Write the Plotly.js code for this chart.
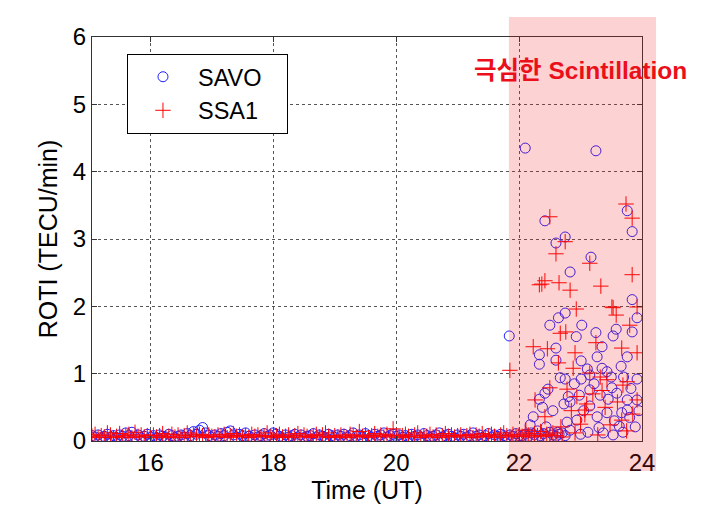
<!DOCTYPE html>
<html>
<head>
<meta charset="utf-8">
<script src="https://cdn.plot.ly/plotly-3.0.1.min.js"></script>
<style>html,body{margin:0;padding:0;background:#fff;}#chart{width:710px;height:508px;}</style>
</head>
<body>
<div id="chart"></div>
<script>
// Quiet-period time stamps (UT hours)
const tBase = [
15.05,15.1,15.15,15.2,15.25,15.3,15.35,15.4,15.45,15.5,15.55,15.6,15.65,15.7,15.75,15.8,15.85,15.9,15.95,16,
16.05,16.1,16.15,16.2,16.25,16.3,16.35,16.4,16.45,16.5,16.55,16.6,16.65,16.7,16.75,16.8,16.85,16.9,16.95,17,
17.05,17.1,17.15,17.2,17.25,17.3,17.35,17.4,17.45,17.5,17.55,17.6,17.65,17.7,17.75,17.8,17.85,17.9,17.95,18,
18.05,18.1,18.15,18.2,18.25,18.3,18.35,18.4,18.45,18.5,18.55,18.6,18.65,18.7,18.75,18.8,18.85,18.9,18.95,19,
19.05,19.1,19.15,19.2,19.25,19.3,19.35,19.4,19.45,19.5,19.55,19.6,19.65,19.7,19.75,19.8,19.85,19.9,19.95,20,
20.05,20.1,20.15,20.2,20.25,20.3,20.35,20.4,20.45,20.5,20.55,20.6,20.65,20.7,20.75,20.8,20.85,20.9,20.95,21,
21.05,21.1,21.15,21.2,21.25,21.3,21.35,21.4,21.45,21.5,21.55,21.6,21.65,21.7,21.75,21.8,21.85,21.9,21.95,22
];
const savoBase = [
0.08,0.06,0.09,0.05,0.07,0.10,0.06,0.08,0.05,0.09,0.07,0.12,0.08,0.13,0.06,0.09,0.05,0.07,0.10,0.06,
0.08,0.05,0.09,0.07,0.06,0.10,0.08,0.05,0.07,0.09,0.06,0.11,0.08,0.14,0.10,0.16,0.20,0.12,0.08,0.06,
0.09,0.07,0.11,0.08,0.13,0.15,0.09,0.06,0.10,0.08,0.12,0.07,0.05,0.09,0.06,0.08,0.11,0.07,0.09,0.12,
0.10,0.07,0.05,0.09,0.06,0.08,0.10,0.06,0.09,0.05,0.07,0.08,0.11,0.06,0.09,0.07,0.05,0.10,0.08,0.06,
0.09,0.07,0.10,0.06,0.08,0.12,0.07,0.09,0.05,0.11,0.08,0.06,0.10,0.07,0.09,0.12,0.06,0.08,0.10,0.07,
0.09,0.06,0.08,0.05,0.10,0.07,0.09,0.06,0.11,0.08,0.05,0.07,0.09,0.12,0.06,0.08,0.10,0.07,0.05,0.09,
0.07,0.10,0.06,0.08,0.12,0.07,0.09,0.05,0.08,0.11,0.06,0.09,0.07,0.10,0.08,0.06,0.09,0.07,0.11,0.08
];
const ssaBase = [
0.07,0.10,0.05,0.08,0.06,0.12,0.09,0.05,0.07,0.11,0.06,0.08,0.10,0.05,0.13,0.07,0.09,0.06,0.08,0.05,
0.09,0.06,0.08,0.11,0.05,0.07,0.10,0.06,0.09,0.05,0.08,0.12,0.06,0.09,0.07,0.10,0.08,0.05,0.09,0.07,
0.06,0.09,0.07,0.10,0.05,0.08,0.11,0.07,0.09,0.06,0.08,0.05,0.10,0.07,0.09,0.06,0.08,0.12,0.07,0.05,
0.08,0.10,0.06,0.07,0.09,0.05,0.08,0.11,0.06,0.09,0.07,0.05,0.08,0.10,0.06,0.09,0.12,0.07,0.05,0.08,
0.06,0.09,0.07,0.05,0.10,0.08,0.06,0.14,0.07,0.09,0.05,0.08,0.11,0.07,0.09,0.06,0.10,0.08,0.18,0.07,
0.05,0.08,0.10,0.07,0.06,0.09,0.12,0.05,0.08,0.07,0.10,0.06,0.09,0.05,0.08,0.11,0.07,0.09,0.06,0.08,
0.09,0.06,0.08,0.10,0.05,0.09,0.07,0.11,0.06,0.08,0.10,0.07,0.05,0.09,0.12,0.08,0.06,0.10,0.07,0.09
];
// Scintillation period (SAVO)
const tSavoActive = [22.05,22.10,22.15,22.20,22.25,22.30,22.35,22.40,22.45,22.50,22.55,22.60,22.65,22.70,22.75,
21.84,22.10,23.25,22.42,22.60,22.75,23.17,22.83,23.76,23.84,23.84,
22.75,22.64,22.50,23.02,22.93,23.25,23.35,23.53,23.58,23.84,23.92,
22.60,22.33,22.33,22.60,23.01,23.27,23.76,23.66,23.11,23.35,23.43,
22.67,22.75,23.01,23.15,23.50,23.92,
22.47,22.42,22.33,22.80,22.98,23.15,23.32,23.51,23.59,23.76,23.92,
22.73,22.83,23.15,23.43,23.67,23.76,
22.23,22.44,22.78,22.94,23.27,23.63,22.18,
22.63,22.83,23.12,23.37,23.53,23.69,23.89,
23.05,23.22,23.45,23.70,23.82,23.55,23.00,23.30,23.80,23.95,22.90,22.55,22.38];
const ySavoActive = [0.08,0.10,0.07,0.12,0.09,0.15,0.08,0.11,0.06,0.13,0.09,0.07,0.10,0.12,0.08,
1.56,4.35,4.31,3.27,2.94,3.03,2.73,2.51,3.42,3.11,2.10,
1.90,1.83,1.72,1.72,1.55,1.61,1.40,1.56,1.66,1.62,1.83,
1.38,1.28,1.14,1.20,1.19,1.25,1.25,1.11,1.07,1.08,1.03,
0.94,0.92,0.92,0.98,0.95,0.92,
0.77,0.71,0.62,0.66,0.68,0.76,0.68,0.79,0.71,0.61,0.61,
0.55,0.58,0.52,0.42,0.42,0.46,
0.36,0.21,0.28,0.31,0.36,0.22,0.24,
0.13,0.16,0.13,0.12,0.09,0.13,0.21,
0.45,0.85,0.62,0.95,0.78,0.30,0.10,0.20,0.35,0.45,0.85,0.45,0.50];
// Scintillation period (SSA1)
const tSsaActive = [22.05,22.10,22.15,22.20,22.25,22.30,22.35,22.40,22.45,22.50,22.55,22.60,22.70,
21.85,22.11,
22.50,22.75,22.60,23.15,22.42,22.33,22.65,22.83,23.33,23.74,23.84,23.84,23.51,23.92,22.37,
22.93,23.53,23.58,22.67,22.76,23.80,
22.23,22.46,22.91,23.25,23.67,23.92,
22.64,22.88,23.15,23.32,23.43,23.69,23.76,
22.50,22.78,22.26,22.94,23.07,23.07,23.48,23.67,22.42,22.68,22.91,23.28,23.92,
23.10,23.20,23.40,23.60,23.85,23.00,23.75,22.85,23.35];
const ySsaActive = [0.07,0.12,0.09,0.06,0.11,0.08,0.14,0.07,0.10,0.09,0.12,0.08,0.06,
1.05,0.16,
3.33,2.96,2.78,2.64,2.38,2.32,2.35,2.24,2.30,3.52,3.31,2.47,1.99,1.99,2.33,
1.96,1.98,1.87,1.60,1.62,1.72,
1.40,1.37,1.31,1.46,1.38,1.31,
1.16,1.08,1.01,0.95,0.91,0.83,0.88,
0.79,0.77,0.61,0.66,0.46,0.39,0.24,0.31,0.36,0.21,0.12,0.09,0.61,
0.55,0.70,0.50,0.58,0.40,0.25,0.15,0.45,0.75];

const seriesNames = ['SAVO', 'SSA1'];
const xTicks = [16,18,20,22,24];
const FONT = 'Arial, "Liberation Sans", sans-serif';
const PAD = '\u00a0\u00a0\u00a0';

const traces = [
  {x: tBase.concat(tSavoActive), y: savoBase.concat(ySavoActive), name: seriesNames[0] + PAD, type: 'scatter', mode: 'markers',
   marker: {symbol: 'circle-open', size: 10, color: 'rgb(30,30,255)', line: {width: 1}}},
  {x: tBase.concat(tSsaActive), y: ssaBase.concat(ySsaActive), name: seriesNames[1] + PAD, type: 'scatter', mode: 'markers',
   marker: {symbol: 'cross-thin-open', size: 11, color: 'rgb(255,0,0)', line: {width: 1, color: 'rgb(255,0,0)'}}}
];

const layout = {
  width: 710, height: 508,
  margin: {l: 92, r: 68, t: 37, b: 67},
  paper_bgcolor: '#fff', plot_bgcolor: '#fff',
  font: {family: FONT, size: 24, color: '#000'},
  showlegend: true,
  legend: {x: 0.0636, y: 0.958, xanchor: 'left', yanchor: 'top', bgcolor: '#fff',
           bordercolor: '#000', borderwidth: 1, itemwidth: 60, font: {size: 23.5, family: FONT}},
  xaxis: {range: [15.05, 24], tickvals: xTicks, ticktext: xTicks.map(String),
          showline: true, mirror: 'ticks', linecolor: '#333', linewidth: 1,
          ticks: 'inside', ticklen: 5, tickcolor: '#333', tickfont: {size: 24},
          showgrid: true, gridcolor: '#555', griddash: 'dot', gridwidth: 1, zeroline: false,
          title: {text: 'Time (UT)', font: {size: 25}, standoff: 2}},
  yaxis: {range: [0, 6], dtick: 1,
          showline: true, mirror: 'ticks', linecolor: '#333', linewidth: 1,
          ticks: 'inside', ticklen: 5, tickcolor: '#333', tickfont: {size: 24},
          showgrid: true, gridcolor: '#555', griddash: 'dot', gridwidth: 1, zeroline: false,
          title: {text: 'ROTI (TECU/min)', font: {size: 25}, standoff: 8}},
  shapes: [{type: 'rect', xref: 'paper', yref: 'paper', x0: 0.758, x1: 1.0255, y0: -0.0743, y1: 1.0495,
            fillcolor: 'rgba(240,30,30,0.2)', line: {width: 0}, layer: 'above'}],
  annotations: [{xref: 'paper', yref: 'paper', x: 0.889, y: 0.918, xanchor: 'center', yanchor: 'middle',
                 showarrow: false, text: '<b>극심한 Scintillation</b>',
                 font: {family: 'Arial, "Liberation Sans", "Noto Sans CJK KR", sans-serif', size: 24.5, color: 'rgb(235,15,25)'}}]
};

Plotly.newPlot('chart', traces, layout, {staticPlot: true, displayModeBar: false});
</script>
</body>
</html>
